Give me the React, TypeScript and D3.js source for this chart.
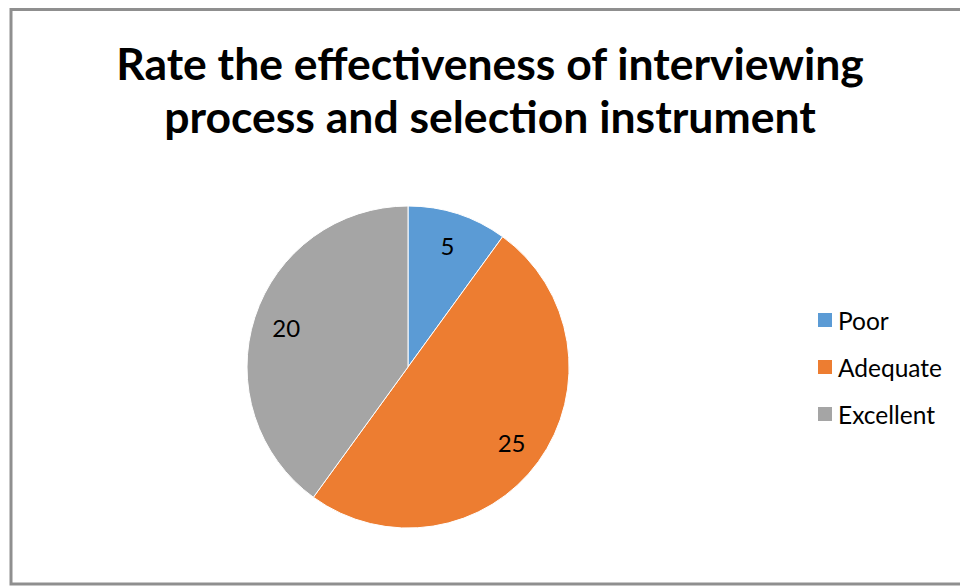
import React from "react";
import * as d3 from "d3";

const categories = ["Poor", "Adequate", "Excellent"];
const values = [5, 25, 20];
const colors = ["#5B9BD5", "#ED7D31", "#A5A5A5"];
const titleLines = ["Rate the effectiveness of interviewing", "process and selection instrument"];

const W = 960;
const H = 586;
const FONT = "Lato, 'Open Sans', 'Noto Sans', sans-serif";

export default function App() {
  const cx = 408;
  const cy = 367;
  const R = 161;
  const data = categories.map((c, i) => ({ c, v: values[i], color: colors[i] }));
  const pie = d3.pie<any>().value((d: any) => d.v).sort(null);
  const arcs = pie(data);
  const arc = d3.arc<any>().innerRadius(0).outerRadius(R);
  const labelArc = d3.arc<any>().innerRadius(128).outerRadius(128);
  const legendY = d3.scalePoint<string>().domain(categories).range([320, 414]);

  return (
    <svg
      width={W}
      height={H}
      style={{ position: "absolute", left: 0, top: 0, background: "#fff" }}
      fontFamily={FONT}
    >
      <rect x={0} y={0} width={W} height={H} fill="#fff" />
      <rect x={11} y={9.5} width={W} height={574.5} fill="#fff" stroke="#8f8f8f" strokeWidth={3} />
      {titleLines.map((t, i) => (
        <text
          key={i}
          x={490}
          y={80 + i * 53}
          textAnchor="middle"
          fontSize={44.5}
          fontWeight="bold"
          fill="#000"
        >
          {t}
        </text>
      ))}
      <g transform={`translate(${cx},${cy})`}>
        {arcs.map((a, i) => (
          <path key={i} d={arc(a) as string} fill={a.data.color} stroke="#fff" strokeWidth={1} />
        ))}
        {arcs.map((a, i) => {
          const [x, y] = labelArc.centroid(a);
          return (
            <text key={i} x={x} y={y} textAnchor="middle" dominantBaseline="central" fontSize={24} fill="#000">
              {a.data.v}
            </text>
          );
        })}
      </g>
      {categories.map((c, i) => (
        <g key={c} transform={`translate(818,${legendY(c)})`}>
          <rect x={0} y={-7} width={14} height={14} fill={colors[i]} />
          <text x={20} y={0} dominantBaseline="central" fontSize={24.5} fill="#000">
            {c}
          </text>
        </g>
      ))}
    </svg>
  );
}
